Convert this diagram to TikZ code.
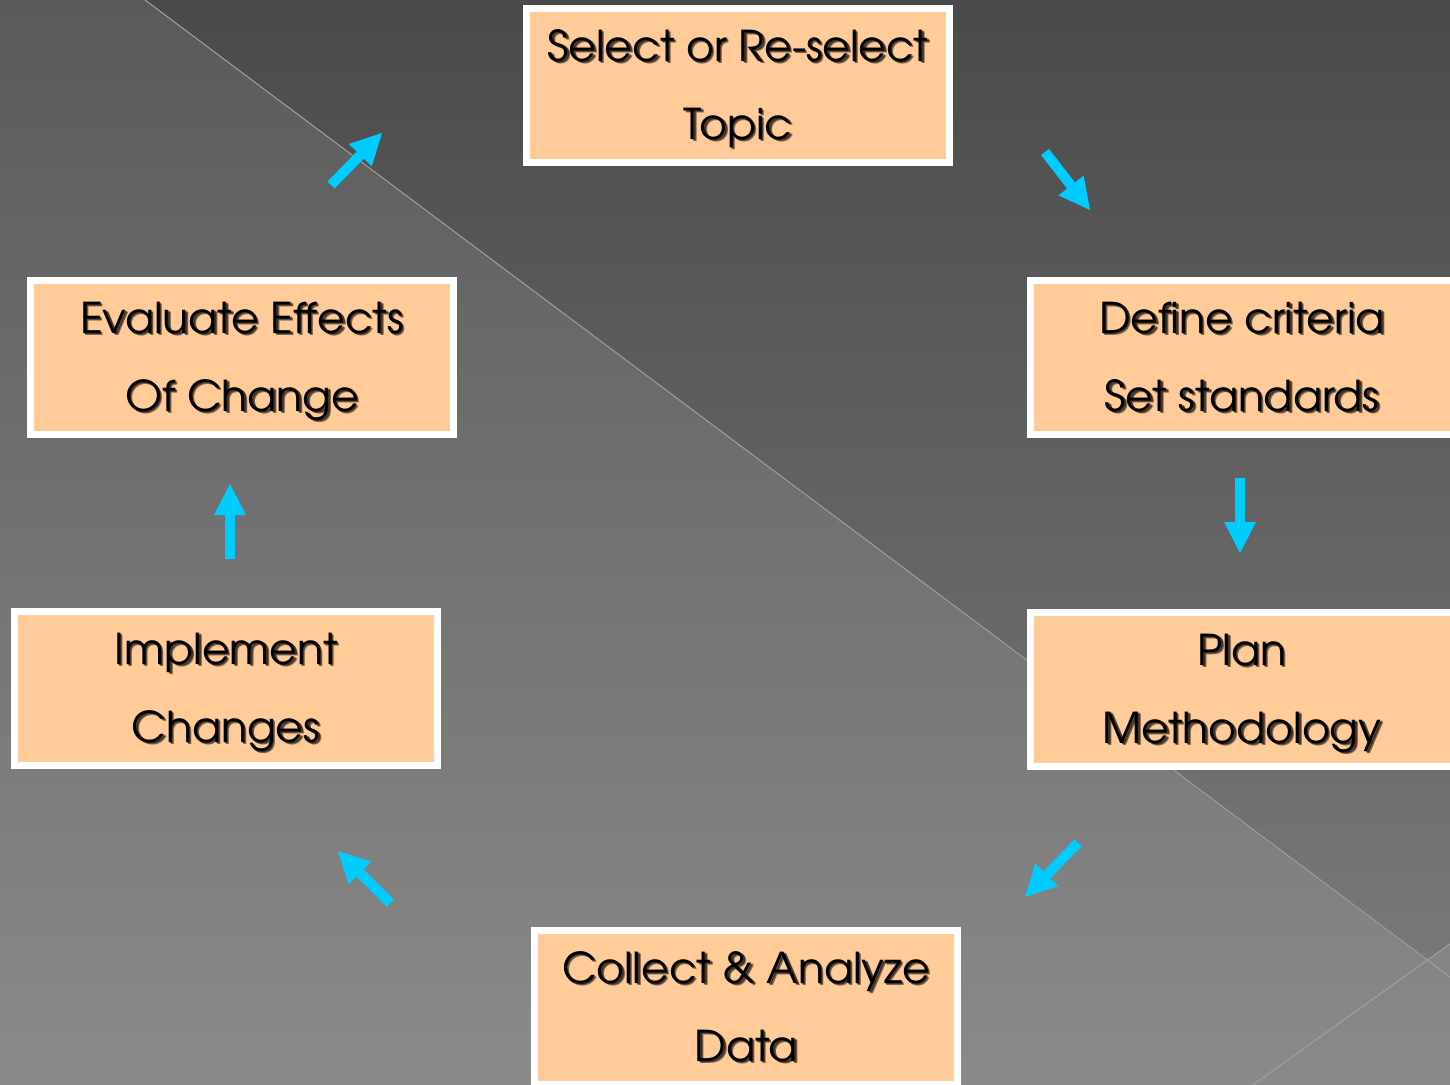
\documentclass[tikz,border=0pt]{standalone}
\usepackage{fontspec}
\setmainfont{TeX Gyre Adventor}
\usetikzlibrary{arrows.meta}
\definecolor{peach}{HTML}{FFCC99}
\definecolor{flowcyan}{HTML}{00CCFF}
\definecolor{bgtop}{HTML}{5A5A5A}
\definecolor{bgbottom}{HTML}{8A8A8A}
\definecolor{darktop}{HTML}{4A4A4A}
\definecolor{darkbottom}{HTML}{787878}
\definecolor{decoline}{HTML}{A0A0A0}
\tikzset{
  stagebox/.style={draw=white, line width=7pt, fill=peach, minimum width=423pt,
    minimum height=154pt, inner sep=0pt, outer sep=0pt},
  txtmain/.style={anchor=base, inner sep=0pt, font=\fontsize{42.5}{50}\selectfont, text=black},
  txtshadow/.style={anchor=base, inner sep=0pt, font=\fontsize{42.5}{50}\selectfont, text=black, text opacity=0.5},
  flow/.style={draw=flowcyan, line width=10pt,
    -{Triangle[length=31pt,width=32pt,line width=0pt]}},
}
\newcommand\cyclebox[5]{%
  \node[stagebox] (#1) at (#2,#3) {};
  \node[txtshadow] (#1-as) at ([xshift=2.5pt,yshift=22pt]#1.center) {#4};
  \node[txtshadow] (#1-as2) at ([xshift=1.5pt,yshift=23pt]#1.center) {#4};
  \node[txtmain] (#1-a) at ([yshift=24.5pt]#1.center) {#4};
  \node[txtshadow] (#1-bs) at ([xshift=2.5pt,yshift=-56pt]#1.center) {#5};
  \node[txtshadow] (#1-bs2) at ([xshift=1.5pt,yshift=-55pt]#1.center) {#5};
  \node[txtmain] (#1-b) at ([yshift=-53.5pt]#1.center) {#5};
}
\begin{document}
\begin{tikzpicture}[x=1pt,y=-1pt]
\useasboundingbox (0,0) rectangle (1450,1084);
% background
\shade[top color=bgtop, bottom color=bgbottom] (0,0) rectangle (1450,1084);
\shade[top color=darktop, bottom color=darkbottom] (145,0) -- (1450,0) -- (1450,944) -- (1427,961) -- cycle;
\draw[decoline, line width=1pt] (145,0) -- (1450,977);
\draw[decoline, line width=1pt] (1254,1084) -- (1450,944);
% boxes
\cyclebox{select}{738}{85.5}{Select or Re-select}{Topic}
\cyclebox{define}{1242}{357.5}{Define criteria}{Set standards}
\cyclebox{plan}{1242}{689.5}{Plan}{Methodology}
\cyclebox{collect}{746}{1007.5}{Collect \& Analyze}{Data}
\cyclebox{implement}{226}{688.5}{Implement}{Changes}
\cyclebox{evaluate}{242}{357.5}{Evaluate Effects}{Of Change}
% arrow coordinates
\coordinate (t1) at (331,185); \coordinate (h1) at (382,133);
\coordinate (t2) at (1045,152); \coordinate (h2) at (1090,210);
\coordinate (t3) at (1240,478); \coordinate (h3) at (1240,553);
\coordinate (t4) at (1078,843); \coordinate (h4) at (1025,897);
\coordinate (t5) at (390,903); \coordinate (h5) at (338,851);
\coordinate (t6) at (230,559); \coordinate (h6) at (230,484);
\foreach \i in {1,...,6} { \draw[flow] (t\i) -- (h\i); }
\end{tikzpicture}
\end{document}
